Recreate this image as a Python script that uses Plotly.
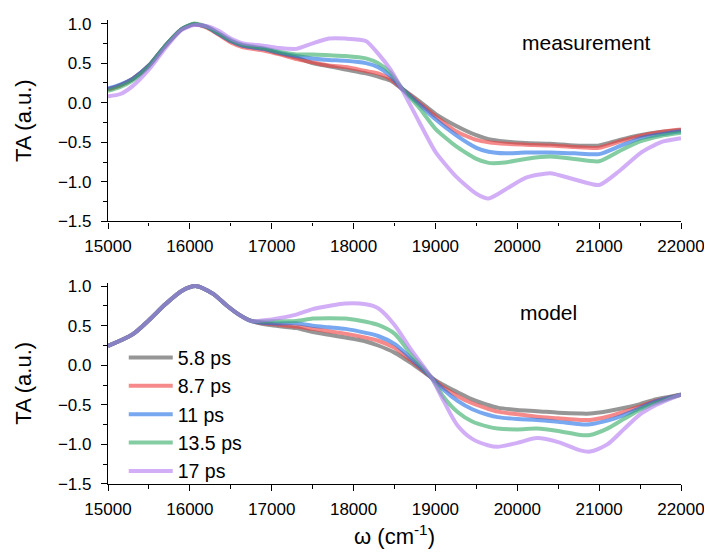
import plotly.graph_objects as go
from plotly.subplots import make_subplots

labels = ["5.8 ps", "8.7 ps", "11 ps", "13.5 ps", "17 ps"]
colors = ["rgba(85,85,85,0.62)", "rgba(240,60,60,0.6)", "rgba(30,110,230,0.6)",
          "rgba(50,170,100,0.6)", "rgba(180,120,240,0.6)"]

# measurement panel
x_meas = [15000, 15150, 15300, 15500, 15700, 15900, 16050, 16200, 16350, 16500, 16650,
          16900, 17100, 17300, 17500, 17700, 17900, 18150, 18300, 18450, 18600, 18800,
          19000, 19250, 19500, 19650, 19850, 20100, 20400, 20700, 21000, 21250, 21500,
          21750, 22000]
meas_58 = [0.17, 0.22, 0.30, 0.47, 0.72, 0.93, 0.99, 0.96, 0.87, 0.78, 0.72,
           0.68, 0.62, 0.57, 0.50, 0.46, 0.42, 0.37, 0.33, 0.28, 0.17, 0.02,
           -0.14, -0.29, -0.41, -0.46, -0.49, -0.51, -0.52, -0.54, -0.54, -0.47, -0.41,
           -0.37, -0.345]
meas_87 = [0.17, 0.22, 0.30, 0.47, 0.72, 0.93, 0.99, 0.95, 0.86, 0.76, 0.70,
           0.66, 0.61, 0.55, 0.51, 0.47, 0.45, 0.40, 0.37, 0.30, 0.17, 0.00,
           -0.17, -0.36, -0.47, -0.50, -0.52, -0.53, -0.54, -0.56, -0.57, -0.49, -0.42,
           -0.37, -0.34]
meas_11 = [0.18, 0.23, 0.30, 0.47, 0.72, 0.93, 0.99, 0.96, 0.87, 0.78, 0.72,
           0.68, 0.63, 0.59, 0.56, 0.54, 0.53, 0.50, 0.45, 0.34, 0.17, -0.02,
           -0.21, -0.41, -0.57, -0.62, -0.64, -0.63, -0.63, -0.64, -0.65, -0.55, -0.45,
           -0.40, -0.36]
meas_135 = [0.15, 0.20, 0.28, 0.46, 0.72, 0.93, 1.00, 0.96, 0.88, 0.79, 0.73,
            0.69, 0.64, 0.61, 0.61, 0.60, 0.59, 0.56, 0.50, 0.38, 0.17, -0.06,
            -0.33, -0.55, -0.71, -0.76, -0.755, -0.71, -0.68, -0.71, -0.74, -0.61, -0.49,
            -0.42, -0.38]
meas_17 = [0.08, 0.11, 0.21, 0.42, 0.69, 0.92, 0.98, 0.97, 0.91, 0.81, 0.75,
           0.72, 0.69, 0.68, 0.75, 0.81, 0.81, 0.78, 0.62, 0.42, 0.15, -0.24,
           -0.62, -0.93, -1.15, -1.21, -1.10, -0.95, -0.89, -0.97, -1.04, -0.86, -0.64,
           -0.50, -0.45]

# model panel
x_model = [15000, 15300, 15500, 15700, 15900, 16080, 16280, 16450, 16600, 16750,
           17000, 17300, 17500, 17700, 17900, 18150, 18300, 18500, 18700, 18950,
           19100, 19270, 19450, 19640, 19760, 20000, 20240, 20500, 20770, 20890,
           21100, 21300, 21500, 21660, 21850, 22000]
common = [0.245, 0.39, 0.57, 0.77, 0.94, 1.0, 0.905, 0.755, 0.64, 0.56]
model_58 = common + [0.505, 0.47, 0.42, 0.385, 0.35, 0.30, 0.25, 0.16, 0.03, -0.155,
                     -0.25, -0.34, -0.43, -0.50, -0.535, -0.565, -0.58, -0.60, -0.61, -0.61,
                     -0.58, -0.54, -0.49, -0.44, -0.40, -0.37]
model_87 = common + [0.52, 0.49, 0.46, 0.43, 0.40, 0.35, 0.31, 0.22, 0.06, -0.155,
                     -0.28, -0.39, -0.48, -0.55, -0.585, -0.62, -0.65, -0.67, -0.69, -0.69,
                     -0.65, -0.59, -0.52, -0.46, -0.41, -0.37]
model_11 = common + [0.53, 0.53, 0.50, 0.48, 0.46, 0.41, 0.37, 0.27, 0.09, -0.155,
                     -0.31, -0.45, -0.555, -0.625, -0.655, -0.68, -0.69, -0.715, -0.745, -0.745,
                     -0.70, -0.63, -0.54, -0.47, -0.41, -0.37]
model_135 = common + [0.555, 0.56, 0.59, 0.595, 0.59, 0.55, 0.51, 0.40, 0.14, -0.155,
                      -0.40, -0.59, -0.71, -0.775, -0.80, -0.81, -0.80, -0.83, -0.88, -0.88,
                      -0.80, -0.68, -0.56, -0.49, -0.42, -0.37]
model_17 = common + [0.58, 0.64, 0.71, 0.75, 0.78, 0.77, 0.72, 0.51, 0.20, -0.155,
                     -0.45, -0.76, -0.93, -1.01, -1.03, -0.98, -0.92, -0.97, -1.075, -1.09,
                     -1.00, -0.81, -0.62, -0.52, -0.43, -0.37]

meas = [meas_58, meas_87, meas_11, meas_135, meas_17]
model = [model_58, model_87, model_11, model_135, model_17]

x_ticks = [15000, 16000, 17000, 18000, 19000, 20000, 21000, 22000]
y_ticks = [-1.5, -1.0, -0.5, 0.0, 0.5, 1.0]

fig = make_subplots(rows=2, cols=1, vertical_spacing=0.1318)

for lab, col, ys in zip(labels, colors, meas):
    fig.add_trace(go.Scatter(x=x_meas, y=ys, mode="lines", name=lab, showlegend=False,
                             line=dict(color=col, width=4, shape="spline", smoothing=0.6)),
                  row=1, col=1)
for lab, col, ys in zip(labels, colors, model):
    fig.add_trace(go.Scatter(x=x_model, y=ys, mode="lines", name=lab,
                             line=dict(color=col, width=4, shape="spline", smoothing=0.8)),
                  row=2, col=1)

font = "Liberation Sans, Arial, sans-serif"
axis_common = dict(showline=True, linecolor="black", linewidth=1.3, ticks="outside",
                   ticklen=6, tickwidth=1.3, tickcolor="black", showgrid=False,
                   zeroline=False, tickfont=dict(family=font, size=17, color="black"),
                   mirror=False)
for r in (1, 2):
    fig.update_xaxes(range=[15000, 22000], tickvals=x_ticks, tickformat="d",
                     ticklabelstandoff=3,
                     minor=dict(ticks="outside", ticklen=3.5, tickwidth=1.3,
                                tickcolor="black", dtick=500, showgrid=False),
                     row=r, col=1, **axis_common)
    fig.update_yaxes(range=[-1.5, 1.045], tickvals=y_ticks, tickformat=".1f",
                     ticklabelstandoff=6,
                     minor=dict(ticks="outside", ticklen=3.5, tickwidth=1.3,
                                tickcolor="black", dtick=0.25, tick0=0, showgrid=False),
                     title=dict(text="TA (a.u.)", font=dict(family=font, size=22, color="black"),
                                standoff=20),
                     row=r, col=1, **axis_common)

fig.update_xaxes(title=dict(text="ω (cm<sup>-1</sup>)",
                            font=dict(family=font, size=22, color="black"), standoff=11),
                 row=2, col=1)

fig.add_annotation(text="measurement", xref="x", yref="y", x=20847, y=0.765,
                   showarrow=False, font=dict(family=font, size=21, color="black"))
fig.add_annotation(text="model", xref="x2", yref="y2", x=20387, y=0.666,
                   showarrow=False, font=dict(family=font, size=21, color="black"))

fig.update_layout(
    width=704, height=544,
    margin=dict(l=100, r=27, t=7, b=66),
    paper_bgcolor="white", plot_bgcolor="white",
    legend=dict(x=0.0275, y=0.314, xanchor="left", yanchor="top",
                font=dict(family=font, size=19.5, color="black"),
                bgcolor="rgba(0,0,0,0)", tracegroupgap=0, itemwidth=44),
)

fig.write_html("out.html")
